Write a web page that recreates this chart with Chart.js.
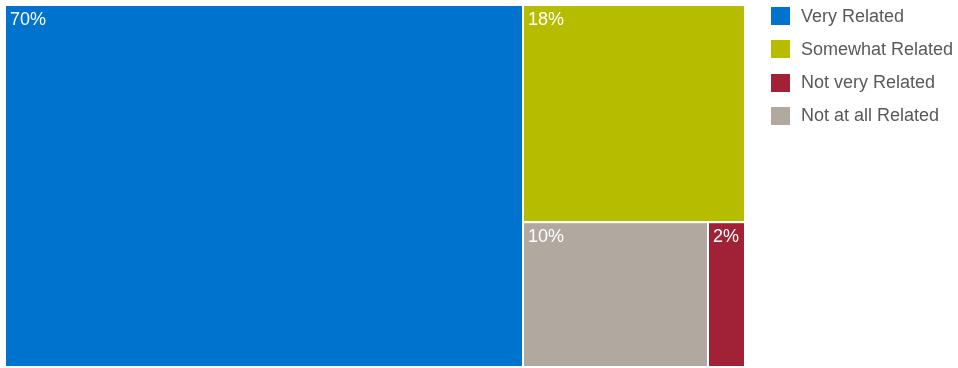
<!DOCTYPE html>
<html>
<head>
<meta charset="utf-8">
<script src="https://cdn.jsdelivr.net/npm/chart.js@4.4.0/dist/chart.umd.min.js"></script>
<style>
  html, body { margin: 0; padding: 0; background: #fff; }
  #wrap { width: 958px; height: 368px; position: relative; }
  #legend {
    position: absolute; left: 771px; top: 7px; margin: 0; padding: 0; list-style: none;
    font-family: "Liberation Sans", Arial, sans-serif; font-size: 18px; color: #595959;
  }
  #legend li { display: flex; align-items: center; height: 18px; margin-bottom: 15.33px; white-space: nowrap; }
  #legend span.box { display: inline-block; width: 19px; height: 18px; margin-right: 11px; }
</style>
</head>
<body>
<div id="wrap">
  <canvas id="treeChart"></canvas>
  <ul id="legend"></ul>
</div>
<script>
const categories = ['Very Related', 'Somewhat Related', 'Not very Related', 'Not at all Related'];
const shares = [70, 18, 2, 10];
const cellColors = ['#0073cf', '#b6bd00', '#a12236', '#b1a9a0'];

// slice-and-dice layout, largest first, alternating cut direction
function layoutCells() {
  const order = shares.map((v, i) => i).sort((a, b) => shares[b] - shares[a]);
  let box = { x0: 0, y0: 0, x1: 1, y1: 1 };
  let remaining = shares.reduce((a, b) => a + b, 0);
  const cells = [];
  order.forEach((idx, n) => {
    const frac = shares[idx] / remaining;
    let cell;
    if (n === order.length - 1) {
      cell = { ...box };
    } else if (n % 2 === 0) {
      const xm = box.x0 + (box.x1 - box.x0) * frac;
      cell = { x0: box.x0, y0: box.y0, x1: xm, y1: box.y1 };
      box = { x0: xm, y0: box.y0, x1: box.x1, y1: box.y1 };
    } else {
      const ym = box.y0 + (box.y1 - box.y0) * frac;
      cell = { x0: box.x0, y0: box.y0, x1: box.x1, y1: ym };
      box = { x0: box.x0, y0: ym, x1: box.x1, y1: box.y1 };
    }
    cells.push({ idx, ...cell });
    remaining -= shares[idx];
  });
  return cells;
}

const treemapPlugin = {
  id: 'treemapCells',
  beforeDatasetsDraw(chart) {
    const { ctx, scales: { x, y } } = chart;
    ctx.save();
    layoutCells().forEach(c => {
      const left = x.getPixelForValue(c.x0);
      const right = x.getPixelForValue(c.x1);
      const top = y.getPixelForValue(c.y0);
      const bottom = y.getPixelForValue(c.y1);
      ctx.fillStyle = cellColors[c.idx];
      ctx.fillRect(left, top, right - left, bottom - top);
      ctx.strokeStyle = '#ffffff';
      ctx.lineWidth = 2;
      ctx.strokeRect(left, top, right - left, bottom - top);
      ctx.fillStyle = '#ffffff';
      ctx.font = '18px "Liberation Sans", Arial, sans-serif';
      ctx.textBaseline = 'alphabetic';
      ctx.fillText(shares[c.idx] + '%', left + 5, top + 20);
    });
    ctx.restore();
  }
};

new Chart(document.getElementById('treeChart').getContext('2d'), {
  type: 'scatter',
  data: {
    datasets: categories.map((name, i) => ({
      label: name,
      data: [],
      backgroundColor: cellColors[i],
      borderWidth: 0
    }))
  },
  options: {
    responsive: true,
    maintainAspectRatio: false,
    animation: false,
    layout: { padding: { left: 5, top: 5, right: 213, bottom: 1 } },
    plugins: {
      tooltip: { enabled: false },
      legend: { display: false }
    },
    scales: {
      x: { type: 'linear', min: 0, max: 1, display: false },
      y: { type: 'linear', min: 0, max: 1, reverse: true, display: false }
    }
  },
  plugins: [treemapPlugin]
});

// legend on the right, built from the same arrays
const legendList = document.getElementById('legend');
categories.forEach((name, i) => {
  const li = document.createElement('li');
  li.innerHTML = `<span class="box" style="background:${cellColors[i]}"></span>${name}`;
  legendList.appendChild(li);
});
</script>
</body>
</html>
